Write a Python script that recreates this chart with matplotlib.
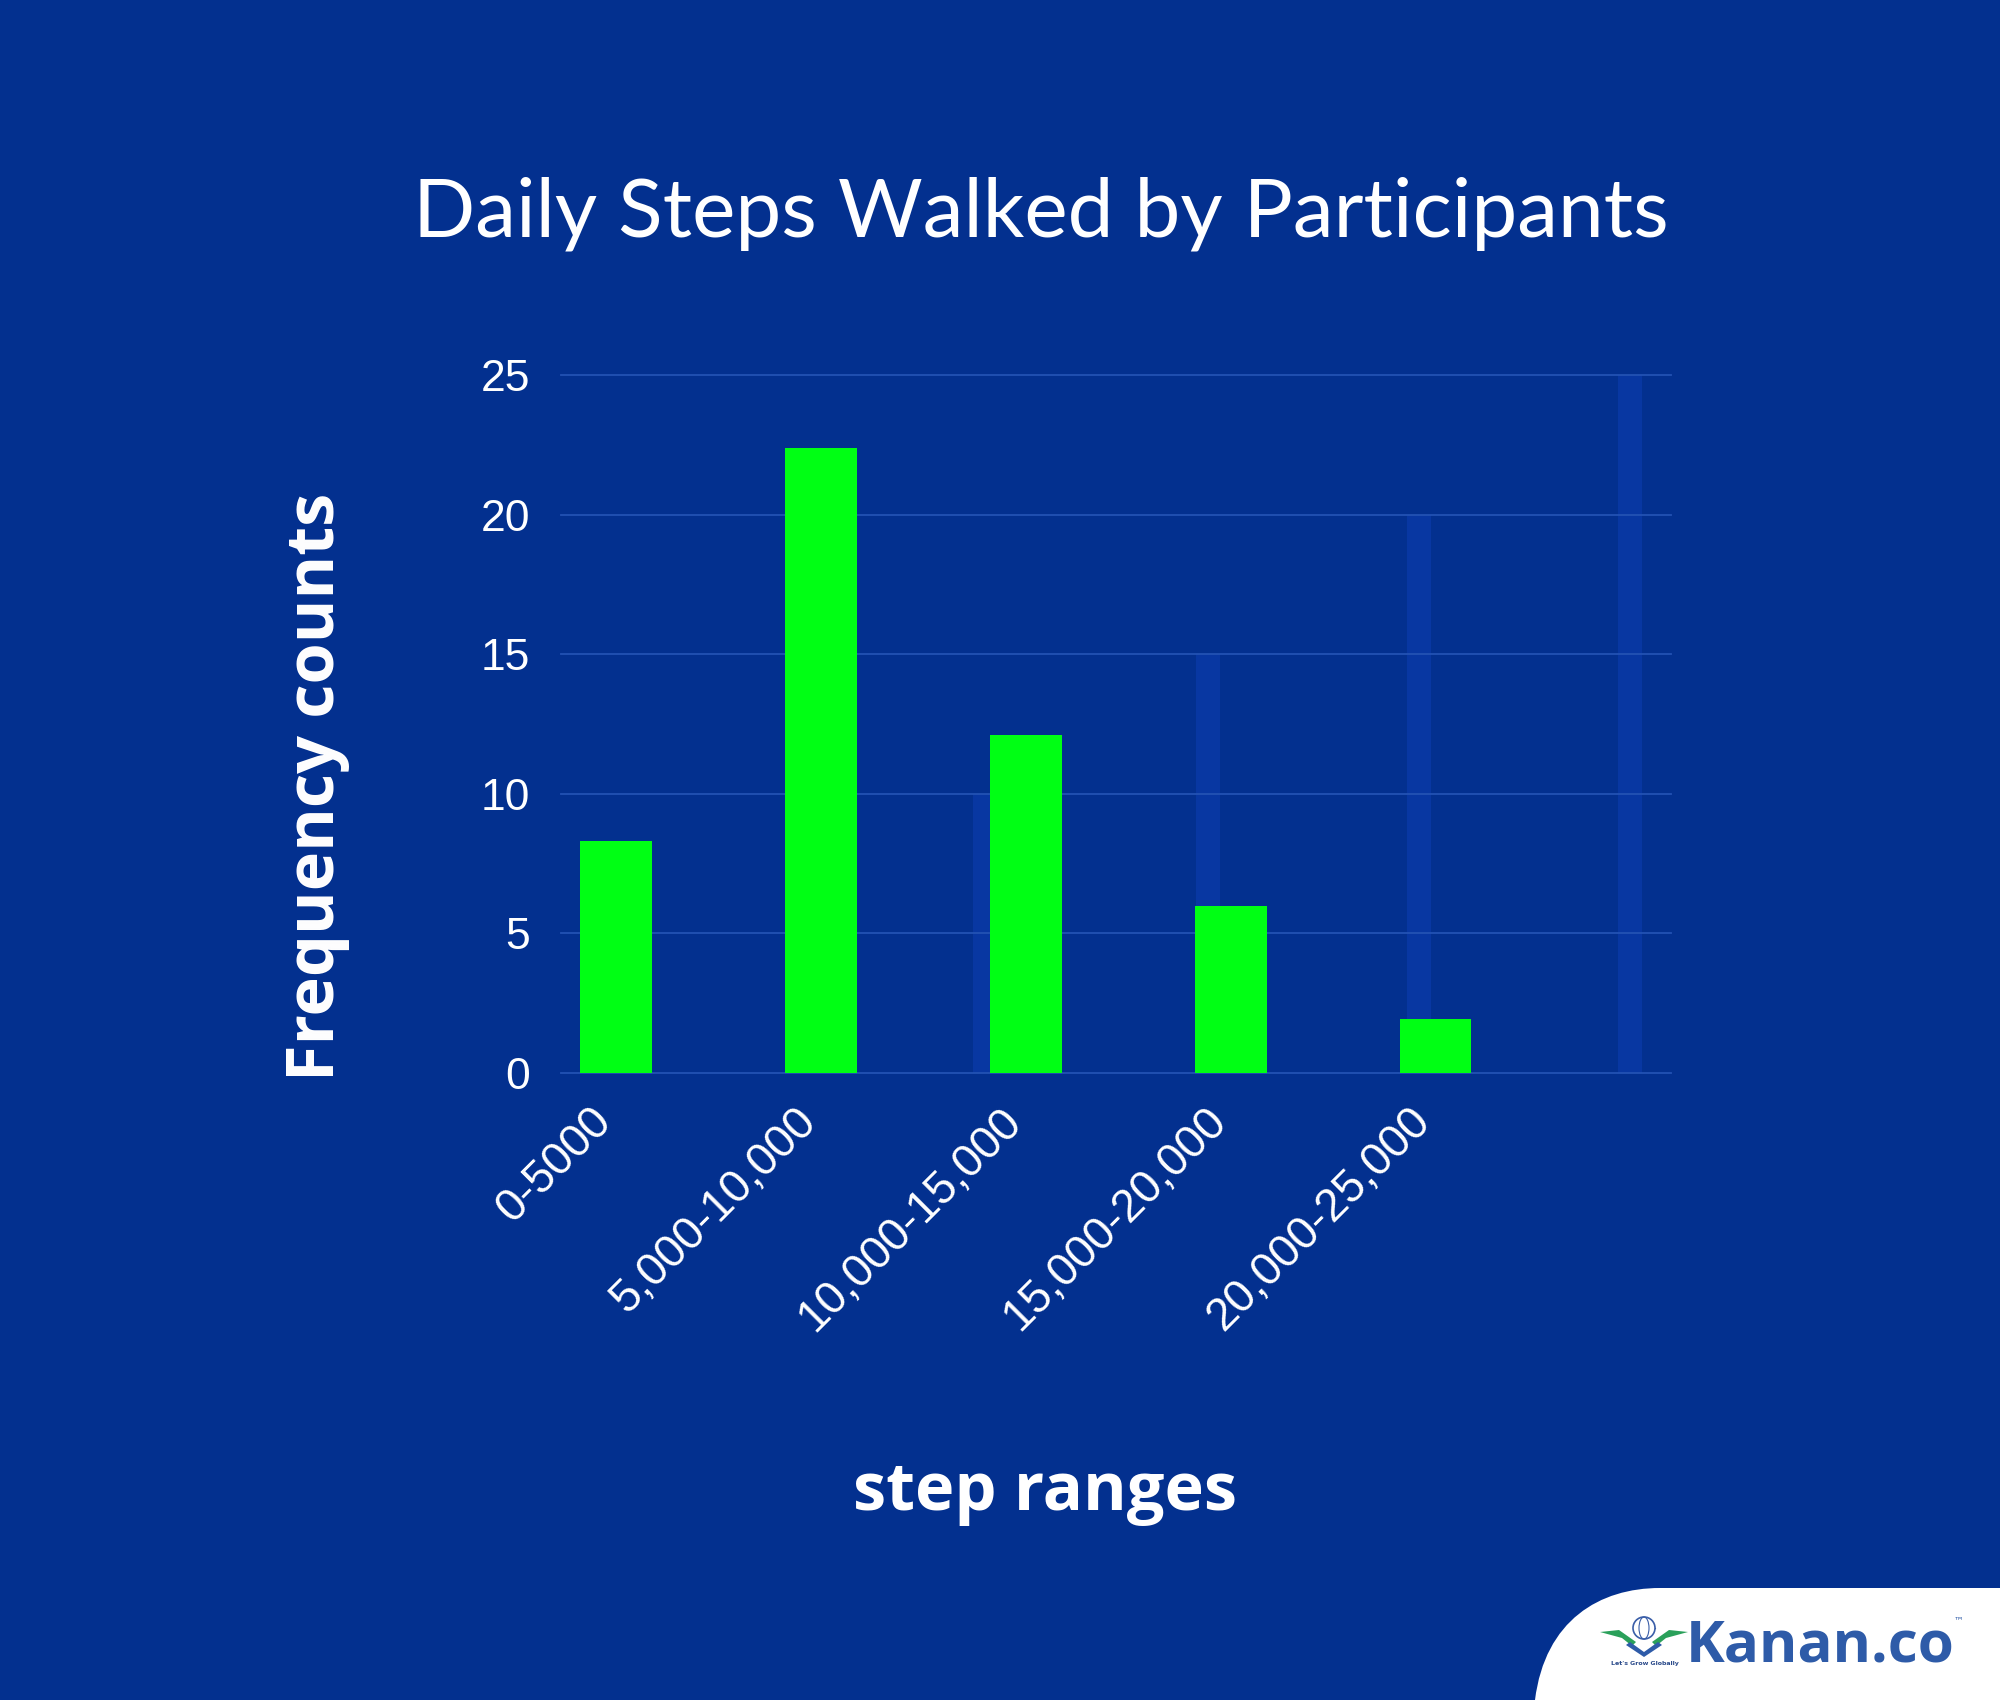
import matplotlib
matplotlib.use("Agg")
import matplotlib.pyplot as plt
import matplotlib.transforms as mtransforms
from matplotlib.path import Path
from matplotlib.patches import PathPatch, Ellipse
import numpy as np

# ---- data ----
categories = ["0-5000", "5,000-10,000", "10,000-15,000", "15,000-20,000", "20,000-25,000"]
counts = [8.3, 22.4, 12.1, 6.0, 1.95]
# faint background series visible behind the bars
ghost_positions = [1.8, 2.89, 3.92, 4.95]
ghost_values = [10, 15, 20, 25]
yticks = [0, 5, 10, 15, 20, 25]

BG = "#03308f"
GREEN = "#00ff14"
GHOST = "#0837a2"
GRID = "#2352b3"

fig = plt.figure(figsize=(20, 17), dpi=100)
fig.patch.set_facecolor(BG)

ax = fig.add_axes([0.2805, 0.3688, 0.555, 0.4106])
ax.set_facecolor(BG)

x = np.arange(len(categories))
ax.bar(ghost_positions, ghost_values, width=0.12, color=GHOST, zorder=1)
ax.bar(x, counts, width=0.35, color=GREEN, zorder=3)

ax.set_xlim(-0.27, 5.15)
ax.set_ylim(0, 25)
ax.set_yticks(yticks)
ax.set_yticklabels([str(v) for v in yticks])
for v in yticks:
    ax.axhline(v, color=GRID, lw=1.3, zorder=2, clip_on=False)

for s in ax.spines.values():
    s.set_visible(False)

ax.tick_params(axis="y", length=0, pad=22, labelsize=32, labelcolor="white")
ax.tick_params(axis="x", length=0, pad=30, labelsize=33, labelcolor="white")
for lab in ax.get_yticklabels():
    lab.set_family("Liberation Sans")

ax.set_xticks(x)
ax.set_xticklabels(categories, rotation=45, ha="right", va="center",
                   rotation_mode="anchor", family="Liberation Sans")
shift = mtransforms.ScaledTranslation(-8 / 72, 0, fig.dpi_scale_trans)
for lab in ax.get_xticklabels():
    lab.set_transform(lab.get_transform() + shift)

# titles
fig.text(0.5205, 1 - 214 / 1700, "Daily Steps Walked by Participants",
         ha="center", va="center", color="white", fontsize=59, family="Lato")
fig.text(316 / 2000, 1 - 787 / 1700, "Frequency counts", rotation=90,
         ha="center", va="center", color="white", fontsize=48,
         family="Open Sans", fontweight="bold")
fig.text(1045 / 2000, 1 - 1492 / 1700, "step ranges",
         ha="center", va="center", color="white", fontsize=48,
         family="Open Sans", fontweight="bold")

# ---- logo corner ----
W, H = 2000.0, 1700.0
def fp(px, py):
    return (px / W, 1 - py / H)

verts = [fp(1535, 1700), fp(1545, 1620), fp(1600, 1588), fp(1660, 1588),
         fp(2000, 1588), fp(2000, 1700), fp(1535, 1700)]
codes = [Path.MOVETO, Path.CURVE4, Path.CURVE4, Path.CURVE4,
         Path.LINETO, Path.LINETO, Path.CLOSEPOLY]
fig.patches.append(PathPatch(Path(verts, codes), transform=fig.transFigure,
                             facecolor="white", edgecolor="none", zorder=5))

# globe icon with wings
cx, cy = 1644, 1628
for sgn in (-1, 1):
    wv = [fp(cx + sgn * 8, cy + 14), fp(cx + sgn * 25, cy + 2),
          fp(cx + sgn * 44, cy + 4), fp(cx + sgn * 22, cy + 10),
          fp(cx + sgn * 12, cy + 18), fp(cx + sgn * 8, cy + 14)]
    fig.patches.append(PathPatch(Path(wv), transform=fig.transFigure,
                                 facecolor="#2aa05a", edgecolor="none", zorder=6))
    bv = [fp(cx, cy + 24), fp(cx + sgn * 14, cy + 14), fp(cx + sgn * 18, cy + 17),
          fp(cx, cy + 29), fp(cx, cy + 24)]
    fig.patches.append(PathPatch(Path(bv), transform=fig.transFigure,
                                 facecolor="#2e5ba8", edgecolor="none", zorder=6))
gx, gy = fp(cx, cy)
fig.patches.append(Ellipse((gx, gy), 22 / W, 22 / H, transform=fig.transFigure,
                           facecolor="white", edgecolor="#3a5ea8", lw=1.2, zorder=7))
fig.patches.append(Ellipse((gx, gy), 10 / W, 22 / H, transform=fig.transFigure,
                           facecolor="none", edgecolor="#3a5ea8", lw=0.8, zorder=7))
fig.lines.append(plt.Line2D([gx - 11 / W, gx + 11 / W], [gy, gy],
                            transform=fig.transFigure, color="#3a5ea8", lw=0.8, zorder=7))
fig.text(1645 / W, 1 - 1663 / H, "Let's Grow Globally", ha="center", va="center",
         fontsize=4.5, color="#2a4a8a", fontweight="bold", zorder=7)
fig.text(1820 / W, 1 - 1647 / H, "Kanan.co", ha="center", va="center",
         fontsize=42, color="#2e5ba8", fontweight="bold", family="Open Sans", zorder=7)
fig.text(1958 / W, 1 - 1620 / H, "™", ha="center", va="center",
         fontsize=7, color="#2e5ba8", zorder=7)

fig.savefig("out.png", dpi=100, facecolor=BG)
